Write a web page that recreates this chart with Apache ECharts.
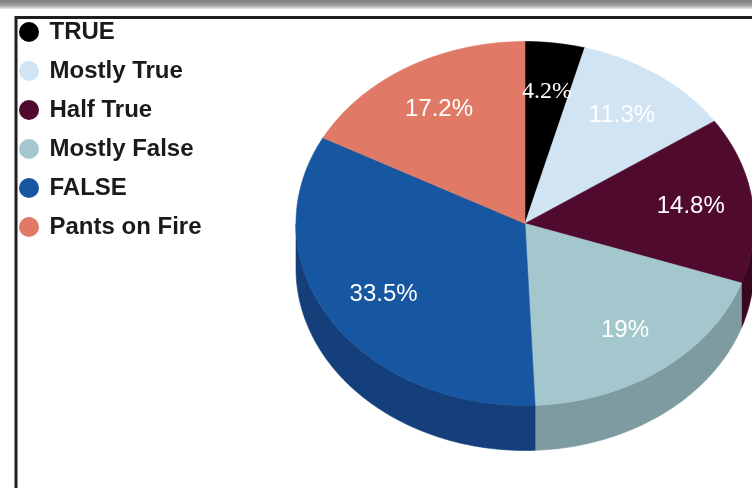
<!DOCTYPE html>
<html>
<head>
<meta charset="utf-8">
<script src="https://cdn.jsdelivr.net/npm/echarts@6/dist/echarts.min.js"></script>
<style>
html,body{margin:0;padding:0;background:#fff;}
#chart{width:752px;height:488px;}
</style>
</head>
<body>
<div id="chart"></div>
<script>
// ---- data ----
const categories = ['TRUE', 'Mostly True', 'Half True', 'Mostly False', 'FALSE', 'Pants on Fire'];
const shares = [4.2, 11.3, 14.8, 19, 33.5, 17.2];
const shareLabels = ['4.2%', '11.3%', '14.8%', '19%', '33.5%', '17.2%'];

// ---- styles ----
const topColors = ['#000000', '#d0e4f3', '#500a2e', '#a3c7cd', '#1756a0', '#e07a66'];
const sideColors = ['#000000', '#a9bccb', '#3a0721', '#7d9ba0', '#143f7a', '#b5604f'];
const labelFonts = [
  '24px "Liberation Serif", serif',
  '24px "Liberation Sans", Arial, sans-serif',
  '24px "Liberation Sans", Arial, sans-serif',
  '24px "Liberation Sans", Arial, sans-serif',
  '24px "Liberation Sans", Arial, sans-serif',
  '24px "Liberation Sans", Arial, sans-serif'
];

const TOTAL = shares.reduce((a, b) => a + b, 0);
const starts = [];
shares.reduce((acc, v, i) => { starts[i] = acc; return acc + v; }, 0);

// layout (ellipse pie with depth)
const CX = 525, CY = 223.5, RX = 229, RY = 182, DEPTH = 45, LABEL_R = 0.73;

function pt(t, dy) {
  return [CX + RX * Math.sin(t), CY - RY * Math.cos(t) + dy];
}
function arc(a, b, dy) {
  const n = Math.max(2, Math.ceil((b - a) / 0.01));
  const out = [];
  for (let k = 0; k <= n; k++) out.push(pt(a + (b - a) * k / n, dy));
  return out;
}

function makeRender(i) {
  return function (params, api) {
    const share = api.value(0), start = api.value(1);
    const t0 = start / TOTAL * Math.PI * 2;
    const t1 = (start + share) / TOTAL * Math.PI * 2;
    const children = [];
    const lo = Math.max(t0, Math.PI / 2), hi = Math.min(t1, Math.PI * 1.5);
    if (hi > lo) {
      const pts = arc(lo, hi, 0).concat(arc(lo, hi, DEPTH).reverse());
      children.push({
        type: 'polygon', shape: { points: pts },
        style: { fill: sideColors[i], stroke: sideColors[i], lineWidth: 0.6 }
      });
    }
    const topPts = [[CX, CY]].concat(arc(t0, t1, 0));
    children.push({
      type: 'polygon', shape: { points: topPts },
      style: { fill: topColors[i], stroke: topColors[i], lineWidth: 0.6 }
    });
    const tm = (t0 + t1) / 2;
    children.push({
      type: 'text',
      x: CX + RX * LABEL_R * Math.sin(tm),
      y: CY - RY * LABEL_R * Math.cos(tm),
      z2: 10,
      style: {
        text: shareLabels[i], fill: '#ffffff', font: labelFonts[i],
        align: 'center', verticalAlign: 'middle'
      }
    });
    return { type: 'group', children: children };
  };
}

const series = categories.map((name, i) => ({
  type: 'custom',
  name: name,
  coordinateSystem: 'none',
  silent: true,
  itemStyle: { color: topColors[i] },
  data: [[shares[i], starts[i]]],
  renderItem: makeRender(i)
}));

const chart = echarts.init(document.getElementById('chart'), null, { renderer: 'canvas' });
chart.setOption({
  animation: false,
  backgroundColor: '#ffffff',
  legend: {
    data: categories,
    orient: 'vertical',
    left: 19,
    top: 20,
    padding: 0,
    icon: 'circle',
    itemWidth: 21,
    itemHeight: 20,
    itemGap: 15,
    selectedMode: false,
    textStyle: {
      fontFamily: '"Liberation Sans", Arial, sans-serif',
      fontWeight: 'bold',
      fontSize: 24,
      color: '#1a1a1a',
      padding: [0, 0, 0, 5]
    }
  },
  graphic: [
    {
      type: 'rect', left: 0, top: 0, z: 100,
      shape: { width: 752, height: 9 },
      style: {
        fill: new echarts.graphic.LinearGradient(0, 0, 0, 1, [
          { offset: 0, color: '#7c7c7c' },
          { offset: 0.6, color: '#a0a0a0' },
          { offset: 1, color: '#e8e8e8' }
        ])
      }
    },
    {
      type: 'polyline', z: 100,
      shape: { points: [[16, 488], [16, 17.5], [752, 17.5]] },
      style: { stroke: '#1e1e1e', lineWidth: 3, fill: null }
    }
  ],
  series: series
});
</script>
</body>
</html>
